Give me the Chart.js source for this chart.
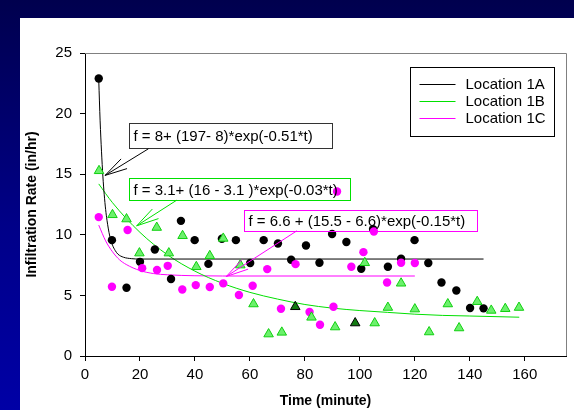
<!DOCTYPE html>
<html>
<head>
<meta charset="utf-8">
<script src="https://cdn.jsdelivr.net/npm/chart.js@4.4.1/dist/chart.umd.min.js"></script>
<style>
html, body { margin: 0; padding: 0; width: 574px; height: 410px; overflow: hidden;
  background: linear-gradient(to bottom, #00004e 0%, #000088 55%, #0000a6 100%); }
#wrap { position: absolute; left: 20px; top: 18px; width: 554px; height: 392px; background: #fff; }
canvas { display: block; }
</style>
</head>
<body>
<div id="wrap"><canvas id="infil_chart" width="554" height="392"></canvas></div>
<script>
const timeA = [5, 9.8, 15.1, 20, 25.4, 31.3, 34.9, 39.9, 44.9, 49.8, 54.9, 60.1, 65, 70.2, 75, 80.4, 85.3, 89.9, 95.1, 100.5, 104.8, 110.2, 115, 119.9, 124.9, 129.7, 135.1, 140.1, 145];
const rateA = [22.9, 9.56, 5.63, 7.77, 8.79, 6.35, 11.15, 9.56, 7.6, 9.67, 9.56, 7.67, 9.56, 9.28, 7.94, 9.12, 7.69, 10.06, 9.4, 7.2, 10.47, 7.36, 8.02, 9.56, 7.67, 6.07, 5.41, 3.96, 3.93];

const timeB = [5.1, 10, 15.1, 19.8, 26.1, 30.5, 35.5, 40.5, 45.4, 50.3, 56.5, 61.3, 66.8, 71.6, 76.5, 82.4, 91, 98.3, 101.8, 105.4, 110.2, 115, 120, 125.2, 132, 136.1, 142.7, 147.8, 152.9, 157.9];
const rateB = [15.28, 11.65, 11.3, 8.49, 10.6, 8.49, 9.92, 7.36, 8.27, 9.7, 7.5, 4.29, 1.81, 1.95, 4.06, 3.19, 2.39, 2.72, 7.69, 2.72, 4.0, 6.0, 3.87, 1.98, 4.29, 2.31, 4.48, 3.76, 3.9, 4.0];
const darkB = [14, 17]; // the two triangles drawn dark with a black edge

const timeC = [5, 9.8, 15.5, 20.8, 26.2, 30.1, 35.4, 40.3, 45.4, 50.3, 56, 61, 66.3, 71.3, 76.6, 81.7, 85.5, 90.4, 91.7, 96.9, 101.3, 105.1, 109.9, 115, 120];
const rateC = [11.46, 5.71, 10.39, 7.25, 7.09, 7.44, 5.49, 5.85, 5.69, 5.99, 5.03, 5.8, 7.17, 3.9, 7.58, 3.63, 2.58, 4.06, 13.57, 7.36, 8.57, 10.27, 6.07, 7.69, 7.67];

// fitted curves, sampled along the drawn lines
const fitTimeA = [5, 5.5, 6, 6.5, 7, 7.5, 8, 9, 10, 11, 12, 14, 17, 20, 145];
const fitRateA = [22.8, 19.4, 16.9, 14.85, 13.3, 12.1, 11.2, 9.9, 9.15, 8.7, 8.4, 8.15, 8.03, 8.0, 8.0];
const fitTimeB = [5, 10, 20, 30, 40, 50, 60, 70, 80, 90, 100, 110, 120, 130, 140, 158];
const fitRateB = [14.2, 12.65, 10.2, 8.35, 7.0, 6.0, 5.25, 4.7, 4.25, 3.95, 3.75, 3.6, 3.45, 3.35, 3.3, 3.2];
const fitTimeC = [5, 7.5, 10, 12.5, 15, 20, 25, 30, 40, 50, 120];
const fitRateC = [10.8, 9.5, 8.6, 7.95, 7.55, 7.05, 6.8, 6.7, 6.62, 6.6, 6.6];

const xTicks = [0, 20, 40, 60, 80, 100, 120, 140, 160];
const yTicks = [0, 5, 10, 15, 20, 25];

const seriesNames = ['Location 1A', 'Location 1B', 'Location 1C'];
const equations = [
    'f = 8+ (197- 8)*exp(-0.51*t)',
    'f = 3.1+ (16 - 3.1 )*exp(-0.03*t)',
    'f = 6.6 + (15.5 - 6.6)*exp(-0.15*t)'
];

function pairs(xs, ys) {
    return xs.map((x, i) => ({x: x, y: ys[i]}));
}

const FONT = '"Liberation Sans", Arial, sans-serif';

// label boxes + arrows, placed in data units
const notes = [
    {text: equations[0], edge: '#333333', box: [16.0, 19.2, 89.9, 17.15], arrow: [23.1, 17.1, 7.3, 14.9], arrowColor: '#000000'},
    {text: equations[1], edge: '#00e000', box: [16.0, 14.67, 96.3, 12.86], arrow: [33.4, 12.86, 18.8, 10.74], arrowColor: '#00e000'},
    {text: equations[2], edge: '#ff00ff', box: [57.7, 12.06, 142.8, 10.33], arrow: [77.1, 10.33, 51.4, 6.56], arrowColor: '#ff00ff'}
];

const lineColors = ['#000000', '#00e000', '#ff00ff'];

const extras = {
    id: 'extras',
    beforeDatasetsDraw(chart) {
        const {ctx, chartArea: a} = chart;
        ctx.save();
        ctx.strokeStyle = '#808080';
        ctx.lineWidth = 1;
        ctx.beginPath();
        ctx.moveTo(a.left, Math.round(a.top) + 0.5);
        ctx.lineTo(Math.round(a.right) + 0.5, Math.round(a.top) + 0.5);
        ctx.lineTo(Math.round(a.right) + 0.5, a.bottom);
        ctx.stroke();
        ctx.restore();
    },
    afterDatasetsDraw(chart) {
        const {ctx, chartArea: a, scales: {x, y}} = chart;
        ctx.save();
        ctx.font = '15px ' + FONT;
        ctx.textBaseline = 'middle';
        notes.forEach(n => {
            const l = Math.round(x.getPixelForValue(n.box[0])) + 0.5;
            const t = Math.round(y.getPixelForValue(n.box[1])) + 0.5;
            const r = Math.round(x.getPixelForValue(n.box[2])) + 0.5;
            const b = Math.round(y.getPixelForValue(n.box[3])) + 0.5;
            ctx.strokeStyle = n.edge;
            ctx.lineWidth = 1;
            ctx.strokeRect(l, t, r - l, b - t);
            ctx.fillStyle = '#000';
            ctx.textAlign = 'left';
            ctx.fillText(n.text, l + 4, (t + b) / 2 + 1);

            const x0 = x.getPixelForValue(n.arrow[0]), y0 = y.getPixelForValue(n.arrow[1]);
            const x1 = x.getPixelForValue(n.arrow[2]), y1 = y.getPixelForValue(n.arrow[3]);
            const ang = Math.atan2(y0 - y1, x0 - x1);
            ctx.strokeStyle = n.arrowColor;
            ctx.beginPath();
            ctx.moveTo(x0, y0);
            ctx.lineTo(x1, y1);
            [-0.25, 0.25].forEach(d => {
                ctx.moveTo(x1, y1);
                ctx.lineTo(x1 + 23 * Math.cos(ang + d), y1 + 23 * Math.sin(ang + d));
            });
            ctx.stroke();
        });

        // legend box in the upper right
        const bl = Math.round(a.right) - 156 + 0.5, bt = Math.round(a.top) + 14 + 0.5;
        ctx.strokeStyle = '#000';
        ctx.strokeRect(bl, bt, 144, 69);
        ctx.textAlign = 'left';
        ctx.fillStyle = '#000';
        seriesNames.forEach((name, i) => {
            const ry = bt + 16 + i * 17;
            ctx.strokeStyle = lineColors[i];
            ctx.beginPath();
            ctx.moveTo(bl + 9, Math.round(ry) + 0.5);
            ctx.lineTo(bl + 45, Math.round(ry) + 0.5);
            ctx.stroke();
            ctx.fillText(name, bl + 55, ry + 1);
        });
        ctx.restore();
    }
};

const ctx = document.getElementById('infil_chart');

const infil_chart = new Chart(ctx, {
    type: 'scatter',
    data: {
        datasets: [
            {
                label: seriesNames[1] + ' data',
                data: pairs(timeB, rateB),
                pointStyle: 'triangle',
                pointRadius: 5.5,
                backgroundColor: c => darkB.includes(c.dataIndex) ? '#127a12' : '#6cf06c',
                borderColor: c => darkB.includes(c.dataIndex) ? '#000000' : '#10d010',
                borderWidth: 1
            },
            {
                label: seriesNames[2] + ' data',
                data: pairs(timeC, rateC),
                pointRadius: 4.2,
                backgroundColor: '#ff00ff',
                borderColor: '#ff00ff',
                borderWidth: 0
            },
            {
                label: seriesNames[0] + ' data',
                data: pairs(timeA, rateA),
                pointRadius: 4.2,
                backgroundColor: '#000000',
                borderColor: '#000000',
                borderWidth: 0
            },
            {
                label: seriesNames[0],
                data: pairs(fitTimeA, fitRateA),
                showLine: true,
                pointRadius: 0,
                borderColor: lineColors[0],
                borderWidth: 1,
                cubicInterpolationMode: 'monotone'
            },
            {
                label: seriesNames[1],
                data: pairs(fitTimeB, fitRateB),
                showLine: true,
                pointRadius: 0,
                borderColor: lineColors[1],
                borderWidth: 1,
                cubicInterpolationMode: 'monotone'
            },
            {
                label: seriesNames[2],
                data: pairs(fitTimeC, fitRateC),
                showLine: true,
                pointRadius: 0,
                borderColor: lineColors[2],
                borderWidth: 1,
                cubicInterpolationMode: 'monotone'
            }
        ]
    },
    options: {
        responsive: false,
        animation: false,
        devicePixelRatio: 1,
        layout: {
            padding: {top: 35, right: 8, bottom: 0, left: 0}
        },
        scales: {
            x: {
                type: 'linear',
                min: 0,
                max: 175,
                afterBuildTicks: s => { s.ticks = xTicks.map(v => ({value: v})); },
                afterFit: s => { s.height = 54; },
                grid: {display: true, drawOnChartArea: false, drawTicks: true, tickLength: 5, tickColor: '#000'},
                border: {display: true, color: '#000', width: 1},
                ticks: {color: '#000', padding: 5, maxRotation: 0, font: {family: FONT, size: 15}},
                title: {
                    display: true,
                    text: 'Time (minute)',
                    color: '#000',
                    padding: {top: 0, bottom: 0},
                    font: {family: FONT, size: 14, weight: 'bold'}
                }
            },
            y: {
                min: 0,
                max: 25,
                afterBuildTicks: s => { s.ticks = yTicks.map(v => ({value: v})); },
                afterFit: s => { s.width = 65; },
                grid: {display: true, drawOnChartArea: false, drawTicks: true, tickLength: 5, tickColor: '#000'},
                border: {display: true, color: '#000', width: 1},
                ticks: {color: '#000', padding: 8, font: {family: FONT, size: 15}},
                title: {
                    display: true,
                    text: 'Infiltration Rate (in/hr)',
                    color: '#000',
                    padding: {top: 4, bottom: 0},
                    font: {family: FONT, size: 14, weight: 'bold'}
                }
            }
        },
        plugins: {
            legend: {display: false},
            tooltip: {enabled: false}
        }
    },
    plugins: [extras]
});
</script>
</body>
</html>
